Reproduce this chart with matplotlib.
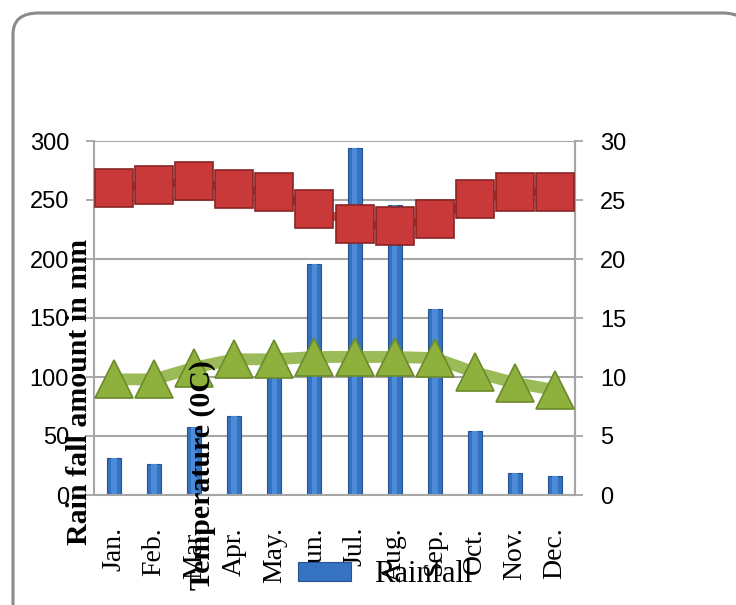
import matplotlib.pyplot as plt
from matplotlib.patches import FancyBboxPatch

months = ['Jan.', 'Feb.', 'Mar.', 'Apr.', 'May.', 'Jun.', 'Jul.', 'Aug.',
          'Sep.', 'Oct.', 'Nov.', 'Dec.']
rainfall = [31, 26, 58, 67, 100, 196, 294, 246, 158, 54, 19, 16]
temp_high = [26.0, 26.3, 26.6, 25.9, 25.7, 24.2, 23.0, 22.8, 23.4, 25.1, 25.7, 25.7]
temp_low = [9.8, 9.8, 10.8, 11.5, 11.5, 11.7, 11.7, 11.7, 11.6, 10.4, 9.5, 8.9]

W, H = 736, 605
fig = plt.figure(figsize=(W / 100, H / 100), dpi=100)

# rounded chart border
frame = FancyBboxPatch((13 / W, -20 / H), 735 / W, 612 / H,
                       boxstyle='round,pad=0,rounding_size=0.035',
                       transform=fig.transFigure, facecolor='white',
                       edgecolor='#8a8a8a', linewidth=2.2, zorder=-1)
fig.patches.append(frame)

ax = fig.add_axes([94 / W, 110 / H, 481 / W, 354 / H])
ax.set_facecolor('none')
x = range(len(months))
bars = ax.bar(x, rainfall, width=0.35, color='#3572c0', edgecolor='#26538e',
              linewidth=0.8, label='Rainfall', zorder=2)
# lighter centre strip for the bevelled look
ax.bar(x, rainfall, width=0.14, color='#4b8bd9', linewidth=0, zorder=2.1)
ax.set_xlim(-0.5, 11.5)
ax.set_ylim(0, 300)
ax.set_yticks(range(0, 301, 50))
ax.grid(axis='y', color='#a6a6a6', linewidth=1.5, zorder=0)
ax.set_axisbelow(True)
ax.set_xticks(list(x))
ax.set_xticklabels(months, rotation=90, family='Liberation Serif', fontsize=20,
                   va='top')
ax.tick_params(axis='x', length=0, pad=23)
ax.tick_params(axis='y', length=6, width=1.3, color='#a6a6a6', labelsize=17,
               pad=12)
for lab in ax.get_yticklabels():
    lab.set_family('Liberation Sans')
ax.spines['top'].set_visible(False)
for s in ['left', 'right', 'bottom']:
    ax.spines[s].set_color('#a6a6a6')
    ax.spines[s].set_linewidth(1.5)

ax2 = ax.twinx()
ax2.set_ylim(0, 30)
ax2.set_yticks(range(0, 31, 5))
ax2.tick_params(axis='y', length=6, width=1.3, color='#a6a6a6', labelsize=17,
                pad=12)
for lab in ax2.get_yticklabels():
    lab.set_family('Liberation Sans')
for s in ['top', 'left', 'bottom']:
    ax2.spines[s].set_visible(False)
ax2.spines['right'].set_color('#a6a6a6')
ax2.spines['right'].set_linewidth(1.5)

ax2.plot(x, temp_low, color='#9bbb59', linewidth=8.5, solid_capstyle='round',
         zorder=3)
ax2.plot(x, temp_low, linestyle='none', marker='^', markersize=28,
         markerfacecolor='#8db13c', markeredgecolor='#6b8a2a',
         markeredgewidth=1.2, zorder=4)
ax2.plot(x, temp_high, color='#c0504d', linewidth=6, zorder=3)
ax2.plot(x, temp_high, linestyle='none', marker='s', markersize=27,
         markerfacecolor='#c9393a', markeredgecolor='#8a2424',
         markeredgewidth=1.2, zorder=4)

fig.text(80 / W, (H - 392) / H, 'Rain fall amount in mm', rotation=90,
         family='Liberation Serif', weight='bold', fontsize=21.5,
         ha='center', va='center')
fig.text(203 / W, (H - 475) / H, 'Temperature (0C)', rotation=90,
         family='Liberation Serif', weight='bold', fontsize=21.5,
         ha='center', va='center', zorder=6)

leg = fig.legend(handles=[bars], loc='center left',
                 bbox_to_anchor=(298 / W, (H - 575) / H),
                 prop={'family': 'Liberation Serif', 'size': 22},
                 frameon=False, handlelength=1.75, handleheight=0.6,
                 handletextpad=0.75, borderpad=0, borderaxespad=0)
leg.set_zorder(5)

fig.savefig('out.png', dpi=100)
